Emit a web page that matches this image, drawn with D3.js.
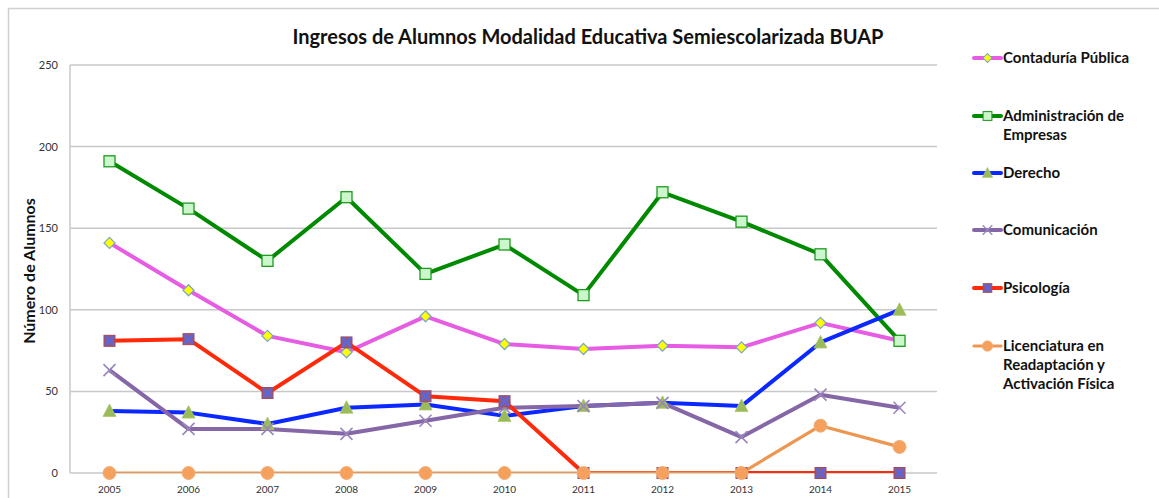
<!DOCTYPE html>
<html lang="es">
<head>
<meta charset="UTF-8">
<title>Ingresos BUAP</title>
<script src="https://cdn.jsdelivr.net/npm/d3@7"></script>
<style>
    body{ margin:0; background:#fff; }
    .titulo{ font-family: Lato, sans-serif; font-weight:700; font-size:20px; fill:#111; }
    .ejeY{ font-family: Lato, sans-serif; font-weight:700; font-size:16px; fill:#111; }
    .ticks{ font-family: Lato, sans-serif; font-size:11px; fill:#333; }
    .leyenda{ font-family: Lato, sans-serif; font-weight:700; font-size:15px; fill:#111; }
    .rejilla{ stroke:#c8c8c8; stroke-width:1.5; }
</style>
</head>
<body>
<div id="grafico"></div>
<script>

var years = [2005, 2006, 2007, 2008, 2009, 2010, 2011, 2012, 2013, 2014, 2015];
var yTicks = [0, 50, 100, 150, 200, 250];

var contaduria     = [141, 112, 84, 74, 96, 79, 76, 78, 77, 92, 81];
var administracion = [191, 162, 130, 169, 122, 140, 109, 172, 154, 134, 81];
var derecho        = [38, 37, 30, 40, 42, 35, 41, 43, 41, 80, 100];
var comunicacion   = [63, 27, 27, 24, 32, 40, 41, 43, 22, 48, 40];
var psicologia     = [81, 82, 49, 80, 47, 44, 0, 0, 0, 0, 0];
var licenciatura   = [0, 0, 0, 0, 0, 0, 0, 0, 0, 29, 16];

var nombres = [
    ["Contaduría Pública"],
    ["Administración de", "Empresas"],
    ["Derecho"],
    ["Comunicación"],
    ["Psicología"],
    ["Licenciatura en", "Readaptación y", "Activación Física"]
];

var series = [
    {nombre: nombres[0], valores: contaduria,     color: "#e65ce2", ancho: 4,   marca: "rombo"},
    {nombre: nombres[1], valores: administracion, color: "#008a00", ancho: 4,   marca: "cuadro"},
    {nombre: nombres[2], valores: derecho,        color: "#0a28ff", ancho: 4,   marca: "triangulo"},
    {nombre: nombres[3], valores: comunicacion,   color: "#8566a6", ancho: 4,   marca: "equis"},
    {nombre: nombres[4], valores: psicologia,     color: "#ff2a0a", ancho: 4,   marca: "cuadroX"},
    {nombre: nombres[5], valores: licenciatura,   color: "#ec9650", ancho: 3.2, marca: "circulo"}
];

var w = 1159, h = 498;
var izq = 70, der = 939, arriba = 65, abajo = 473;

var svg = d3.select("#grafico")
    .append("svg")
    .attr("width", w)
    .attr("height", h);

// marco exterior
svg.append("rect")
    .attr("x", 8.5).attr("y", 8.5)
    .attr("width", w + 20).attr("height", h + 20)
    .attr("fill", "none")
    .attr("stroke", "#cfcfcf")
    .attr("stroke-width", 1.5);

var x = d3.scalePoint()
    .domain(years)
    .range([izq, der])
    .padding(0.5);

var y = d3.scaleLinear()
    .domain([0, 250])
    .range([abajo, arriba]);

// rejilla
svg.selectAll(".rejilla")
    .data(yTicks)
    .enter()
    .append("line")
    .classed("rejilla", true)
    .attr("x1", izq).attr("x2", der - 2)
    .attr("y1", function(d){ return y(d); })
    .attr("y2", function(d){ return y(d); });

svg.append("line")
    .classed("rejilla", true)
    .attr("x1", izq).attr("x2", izq)
    .attr("y1", arriba).attr("y2", abajo);

// etiquetas de ejes
svg.selectAll(".tickY")
    .data(yTicks)
    .enter()
    .append("text")
    .attr("class", "ticks tickY")
    .attr("x", izq - 12)
    .attr("y", function(d){ return y(d) + 4; })
    .attr("text-anchor", "end")
    .text(function(d){ return d; });

svg.selectAll(".tickX")
    .data(years)
    .enter()
    .append("text")
    .attr("class", "ticks tickX")
    .attr("x", function(d){ return x(d); })
    .attr("y", abajo + 20)
    .attr("text-anchor", "middle")
    .style("font-size", "10px")
    .text(function(d){ return d; });

svg.append("text")
    .classed("titulo", true)
    .attr("x", 588)
    .attr("y", 44)
    .attr("text-anchor", "middle")
    .text("Ingresos de Alumnos Modalidad Educativa Semiescolarizada BUAP");

svg.append("text")
    .classed("ejeY", true)
    .attr("transform", "translate(35," + ((arriba + abajo) / 2 + 2) + ") rotate(-90)")
    .attr("text-anchor", "middle")
    .text("Número de Alumnos");

// recorte del area del grafico (las lineas en 0 quedan cortadas a la mitad)
svg.append("clipPath")
    .attr("id", "recorte")
    .append("rect")
    .attr("x", izq).attr("y", 0)
    .attr("width", w - izq).attr("height", abajo);

var linea = d3.line()
    .x(function(d, i){ return x(years[i]); })
    .y(function(d){ return y(d); });

function dibujarMarca(g, tipo, color){
    if (tipo == "rombo"){
        g.append("path").attr("d", "M0,-5.5L5.5,0L0,5.5L-5.5,0Z")
            .attr("fill", "#ffff00").attr("stroke", "#7fa7c4").attr("stroke-width", 1.3);
    } else if (tipo == "cuadro"){
        g.append("rect").attr("x", -5.5).attr("y", -5.5).attr("width", 11).attr("height", 11)
            .attr("fill", "#ccf7cc").attr("stroke", "#1f9a1f").attr("stroke-width", 1.3);
    } else if (tipo == "triangulo"){
        g.append("path").attr("d", "M0,-7L6.5,5.5L-6.5,5.5Z")
            .attr("fill", "#9bbb59").attr("stroke", "#a9c66e").attr("stroke-width", 0.8);
    } else if (tipo == "equis"){
        g.append("path").attr("d", "M-6,-6L6,6M-6,6L6,-6")
            .attr("stroke", "#9a86bb").attr("stroke-width", 1.6);
    } else if (tipo == "cuadroX"){
        g.append("rect").attr("x", -5.5).attr("y", -5.5).attr("width", 11).attr("height", 11)
            .attr("fill", "#8a5a92").attr("stroke", "#9e4a5a").attr("stroke-width", 1);
        g.append("path").attr("d", "M-4.5,-4.5L4.5,4.5M-4.5,4.5L4.5,-4.5")
            .attr("stroke", "#4d6cf0").attr("stroke-width", 1.6);
    } else if (tipo == "circulo"){
        g.append("circle").attr("r", 6.5)
            .attr("fill", "#f5a05c").attr("stroke", "#f0b07a").attr("stroke-width", 1);
    }
}

series.forEach(function(s){
    svg.append("path")
        .datum(s.valores)
        .attr("clip-path", "url(#recorte)")
        .attr("fill", "none")
        .attr("stroke", s.color)
        .attr("stroke-width", s.ancho)
        .attr("stroke-linejoin", "round")
        .attr("d", linea);
});

series.forEach(function(s){
    s.valores.forEach(function(v, i){
        var g = svg.append("g")
            .attr("transform", "translate(" + x(years[i]) + "," + y(v) + ")");
        dibujarMarca(g, s.marca, s.color);
    });
});

// leyenda
var leyY = [58, 116, 173, 230, 288, 346];

series.forEach(function(s, i){
    var g = svg.append("g")
        .attr("transform", "translate(974," + leyY[i] + ")");
    g.append("line")
        .attr("x1", 0).attr("x2", 27)
        .attr("stroke", s.color)
        .attr("stroke-width", s.ancho)
        .attr("stroke-linecap", "round");
    var m = g.append("g").attr("transform", "translate(13.5,0) scale(0.8)");
    dibujarMarca(m, s.marca, s.color);
    var t = g.append("text")
        .classed("leyenda", true)
        .attr("x", 29)
        .attr("y", 5);
    s.nombre.forEach(function(parte, j){
        t.append("tspan")
            .attr("x", 29)
            .attr("dy", j == 0 ? 0 : 19)
            .text(parte);
    });
});

</script>
</body>
</html>
